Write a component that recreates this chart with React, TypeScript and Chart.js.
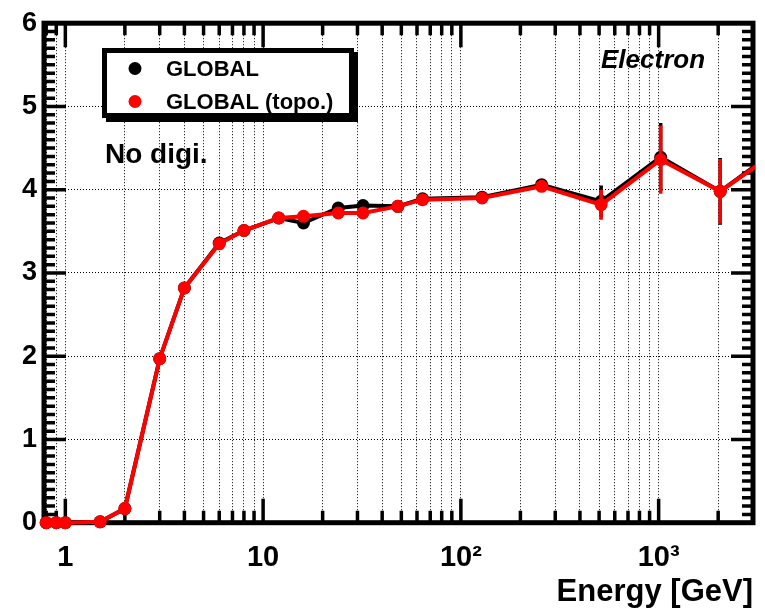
import React, { useEffect, useRef } from "react";
import { Chart, registerables } from "chart.js";

Chart.register(...registerables);

// Beam energies (GeV)
const energies = [0.8, 0.9, 1, 1.5, 2, 3, 4, 6, 8, 12, 16, 24, 32, 48, 64, 128, 256, 512, 1024, 2048, 4096];

// GLOBAL reconstruction
const globalValues = [0, 0, 0, 0.01, 0.17, 1.97, 2.82, 3.36, 3.51, 3.66, 3.6, 3.78, 3.81, 3.8, 3.89, 3.91, 4.06, 3.86, 4.39, 3.98, 4.5];
const globalErrors = [0, 0, 0, 0.01, 0.02, 0.03, 0.03, 0.03, 0.03, 0.03, 0.03, 0.03, 0.03, 0.03, 0.04, 0.04, 0.06, 0.19, 0.41, 0.4, 0.5];

// GLOBAL reconstruction with topological clustering
const topoValues = [0, 0, 0, 0.01, 0.17, 1.97, 2.82, 3.35, 3.51, 3.66, 3.68, 3.72, 3.72, 3.8, 3.88, 3.9, 4.04, 3.82, 4.36, 3.98, 4.48];
const topoErrors = [0, 0, 0, 0.01, 0.02, 0.03, 0.03, 0.03, 0.03, 0.03, 0.03, 0.03, 0.03, 0.03, 0.04, 0.04, 0.06, 0.18, 0.41, 0.39, 0.5];

const seriesLabels = ["GLOBAL", "GLOBAL (topo.)"];
const seriesColors = ["#000000", "#ff0000"];

// Axis tick positions and labels
const xTickValues = [0.8, 0.9, 1, 2, 3, 4, 5, 6, 7, 8, 9, 10, 20, 30, 40, 50, 60, 70, 80, 90, 100, 200, 300, 400, 500, 600, 700, 800, 900, 1000, 2000];
const xMajorValues = [1, 10, 100, 1000];
const xTickLabels: Record<number, string> = { 1: "1", 10: "10", 100: "10\u00B2", 1000: "10\u00B3" };
const yMajorValues = [0, 1, 2, 3, 4, 5, 6];

const FONT = "'Liberation Sans', Arial, Helvetica, sans-serif";

const errorBars = {
  id: "errorBars",
  afterDatasetDraw(chart: any, args: any) {
    const ds = chart.data.datasets[args.index];
    const errs: number[] = ds.errors;
    if (!errs) return;
    const { ctx, chartArea } = chart;
    const xs = chart.scales.x;
    const ys = chart.scales.y;
    ctx.save();
    ctx.beginPath();
    ctx.rect(chartArea.left, chartArea.top, chartArea.right - chartArea.left, chartArea.bottom - chartArea.top);
    ctx.clip();
    ctx.strokeStyle = ds.borderColor;
    ctx.lineWidth = 3.5;
    ds.data.forEach((p: any, i: number) => {
      const e = errs[i];
      if (!e) return;
      const px = xs.getPixelForValue(p.x);
      ctx.beginPath();
      ctx.moveTo(px, ys.getPixelForValue(p.y - e));
      ctx.lineTo(px, ys.getPixelForValue(p.y + e));
      ctx.stroke();
    });
    ctx.restore();
  },
};

const frameAndTicks = {
  id: "frameAndTicks",
  beforeDatasetsDraw(chart: any) {
    const { ctx, chartArea } = chart;
    const { left, right, top, bottom } = chartArea;
    const xs = chart.scales.x;
    const ys = chart.scales.y;
    ctx.save();
    ctx.strokeStyle = "#000";
    ctx.lineWidth = 3.5;
    ctx.lineCap = "butt";
    // x ticks, bottom and top
    xTickValues.forEach((v) => {
      const px = xs.getPixelForValue(v);
      if (px < left + 2 || px > right - 2) return;
      const len = xMajorValues.includes(v) ? 24 : 12;
      ctx.beginPath();
      ctx.moveTo(px, bottom);
      ctx.lineTo(px, bottom - len);
      ctx.moveTo(px, top);
      ctx.lineTo(px, top + len);
      ctx.stroke();
    });
    // y ticks, left and right, every 0.1
    for (let k = 0; k <= 60; k++) {
      const v = k / 10;
      const py = ys.getPixelForValue(v);
      const len = k % 10 === 0 ? 22 : 11;
      ctx.beginPath();
      ctx.moveTo(left, py);
      ctx.lineTo(left + len, py);
      ctx.moveTo(right, py);
      ctx.lineTo(right - len, py);
      ctx.stroke();
    }
    // frame
    ctx.lineWidth = 5;
    ctx.lineJoin = "miter";
    ctx.strokeRect(left, top, right - left, bottom - top);
    ctx.restore();
  },
};

const annotations = {
  id: "annotations",
  afterDraw(chart: any) {
    const { ctx } = chart;
    ctx.save();
    // legend box with shadow
    const bx = 102, by = 48, bw = 252, bh = 70;
    ctx.fillStyle = "#000";
    ctx.fillRect(bx + 4, by + 4, bw, bh);
    ctx.fillStyle = "#fff";
    ctx.fillRect(bx, by, bw, bh);
    ctx.strokeStyle = "#000";
    ctx.lineWidth = 5;
    ctx.strokeRect(bx + 2.5, by + 2.5, bw - 5, bh - 5);
    const rows = [68.5, 101.5];
    chart.data.datasets.slice().sort((a: any, b: any) => b.order - a.order).forEach((ds: any, i: number) => {
      ctx.fillStyle = ds.backgroundColor;
      ctx.beginPath();
      ctx.arc(135, rows[i], 6.5, 0, Math.PI * 2);
      ctx.fill();
      ctx.fillStyle = "#000";
      ctx.font = `bold 22px ${FONT}`;
      ctx.textBaseline = "alphabetic";
      ctx.textAlign = "left";
      ctx.fillText(ds.label, 166, rows[i] + 7.5);
    });
    ctx.fillStyle = "#000";
    ctx.font = `bold 28px ${FONT}`;
    ctx.fillText("No digi.", 105, 163);
    ctx.font = `italic bold 26px ${FONT}`;
    ctx.fillText("Electron", 601, 68);
    ctx.restore();
  },
};

export default function App() {
  const canvasRef = useRef<HTMLCanvasElement | null>(null);

  useEffect(() => {
    if (!canvasRef.current) return;
    const chart = new Chart(canvasRef.current, {
      type: "line",
      data: {
        datasets: [
          {
            label: seriesLabels[0],
            data: energies.map((x, i) => ({ x, y: globalValues[i] })),
            errors: globalErrors,
            borderColor: seriesColors[0],
            backgroundColor: seriesColors[0],
            order: 2,
          } as any,
          {
            label: seriesLabels[1],
            data: energies.map((x, i) => ({ x, y: topoValues[i] })),
            errors: topoErrors,
            borderColor: seriesColors[1],
            backgroundColor: seriesColors[1],
            order: 1,
          } as any,
        ],
      },
      options: {
        animation: false,
        responsive: false,
        layout: { padding: { left: 0, right: 12, top: 17.5, bottom: 0 } },
        elements: {
          line: { borderWidth: 4, tension: 0 },
          point: { radius: 6.5, borderWidth: 0, hoverRadius: 6.5 },
        },
        datasets: {
          line: { clip: { left: 8, top: 0, right: 2, bottom: 8 } as any },
        },
        plugins: { legend: { display: false }, tooltip: { enabled: false } },
        scales: {
          x: {
            type: "logarithmic",
            min: 0.78,
            max: 3000,
            afterBuildTicks: (scale: any) => {
              scale.ticks = xTickValues.map((v) => ({ value: v, major: xMajorValues.includes(v) }));
            },
            afterFit: (scale: any) => {
              scale.height = 85.3;
            },
            grid: { color: "#000", lineWidth: 1, drawTicks: false },
            border: { display: false, dash: [1, 2] },
            ticks: {
              autoSkip: false,
              maxRotation: 0,
              minRotation: 0,
              padding: 18,
              color: "#000",
              font: { family: FONT, size: 29, weight: "bold" },
              callback: (value: any) => xTickLabels[Number(value)] ?? "",
            },
            title: {
              display: true,
              text: "Energy [GeV]",
              align: "end",
              color: "#000",
              font: { family: FONT, size: 31, weight: "bold", lineHeight: 1 },
              padding: { top: 0, bottom: 0.5 },
            },
          },
          y: {
            type: "linear",
            min: 0,
            max: 6,
            afterBuildTicks: (scale: any) => {
              scale.ticks = yMajorValues.map((v) => ({ value: v }));
            },
            afterFit: (scale: any) => {
              scale.width = 44;
            },
            grid: { color: "#000", lineWidth: 1, drawTicks: false },
            border: { display: false, dash: [1, 2] },
            ticks: {
              padding: 7,
              color: "#000",
              font: { family: FONT, size: 27, weight: "bold" },
            },
          },
        },
      },
      plugins: [frameAndTicks, errorBars, annotations],
    });
    return () => chart.destroy();
  }, []);

  return (
    <div style={{ position: "fixed", left: 0, top: 0, width: 765, height: 608, background: "#fff" }}>
      <canvas ref={canvasRef} width={765} height={608} />
    </div>
  );
}
